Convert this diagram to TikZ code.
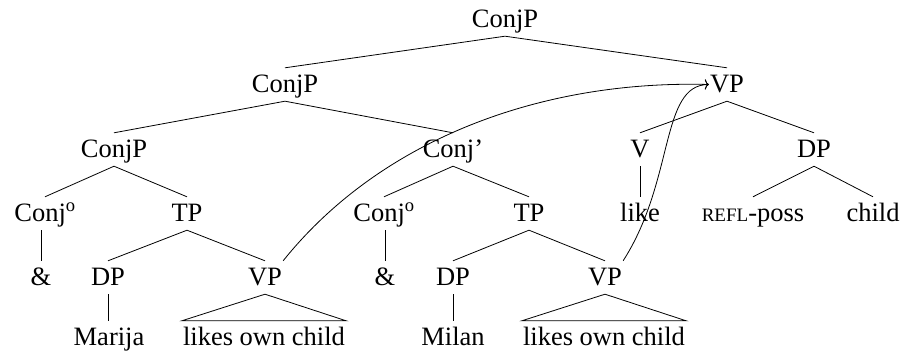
\documentclass[tikz,border=0pt]{standalone}
\usepackage{fontspec}
\setmainfont{Liberation Serif}
\usetikzlibrary{arrows.meta}
\begin{document}
\begin{tikzpicture}[x=1pt,y=-1pt,
  every node/.style={font=\fontsize{26.5}{31}\selectfont, text height=24pt, text depth=9pt, inner ysep=0pt, inner xsep=1pt, anchor=base},
  branch/.style={line width=0.8pt},
  move/.style={line width=0.8pt, -{To[length=4pt,width=10pt]}}]
\useasboundingbox (0,0) rectangle (903,351);
\node (c0) at (505,27) {ConjP};
\node (c1) at (285,92) {ConjP};
\node (vp1) at (727,92) {VP};
\node (c2) at (114,157) {ConjP};
\node (cb) at (453,157) {Conj’};
\node (v) at (640,157) {V};
\node (dp1) at (814,157) {DP};
\node (co1) at (45,221) {Conj\textsuperscript{o}};
\node (tp1) at (187,221) {TP};
\node (co2) at (384,221) {Conj\textsuperscript{o}};
\node (tp2) at (529,221) {TP};
\node (like) at (640,221) {like};
\node (refl) at (753,221) {{\fontsize{19}{22}\selectfont REFL}-poss};
\node (child) at (873,221) {child};
\node (am1) at (41,285) {\&};
\node (dpa) at (108,285) {DP};
\node (vpa) at (265,285) {VP};
\node (am2) at (385,285) {\&};
\node (dpb) at (453,285) {DP};
\node (vpb) at (605,285) {VP};
\node (mar) at (109,345) {Marija};
\node (lo1) at (264,345) {likes own child};
\node (mil) at (453,345) {Milan};
\node (lo2) at (604,345) {likes own child};
\draw[branch] (c0.south) -- (c1.north) (c0.south) -- (vp1.north);
\draw[branch] (c1.south) -- (c2.north) (c1.south) -- (cb.north);
\draw[branch] (vp1.south) -- (v.north) (vp1.south) -- (dp1.north);
\draw[branch] (c2.south) -- (co1.north) (c2.south) -- (tp1.north);
\draw[branch] (cb.south) -- (co2.north) (cb.south) -- (tp2.north);
\draw[branch] (v.south) -- (like.north);
\draw[branch] (dp1.south) -- (refl.north) (dp1.south) -- (child.north);
\draw[branch] (am1.north |- co1.south) -- (am1.north);
\draw[branch] (am2.north |- co2.south) -- (am2.north);
\draw[branch] (tp1.south) -- (dpa.north) (tp1.south) -- (vpa.north);
\draw[branch] (tp2.south) -- (dpb.north) (tp2.south) -- (vpb.north);
\draw[branch] (dpa.south) -- (dpa.south |- mar.north);
\draw[branch] (dpb.south) -- (dpb.south |- mil.north);
\draw[branch] (vpa.south) -- (lo1.north west) -- (lo1.north east) -- cycle;
\draw[branch] (vpb.south) -- (lo2.north west) -- (lo2.north east) -- cycle;
\draw[move] (vpa.north east) .. controls (380,140) and (540,80) .. (vp1.west);
\draw[move] (vpb.north east) .. controls (675,180) and (660,85) .. (vp1.west);
\end{tikzpicture}
\end{document}
